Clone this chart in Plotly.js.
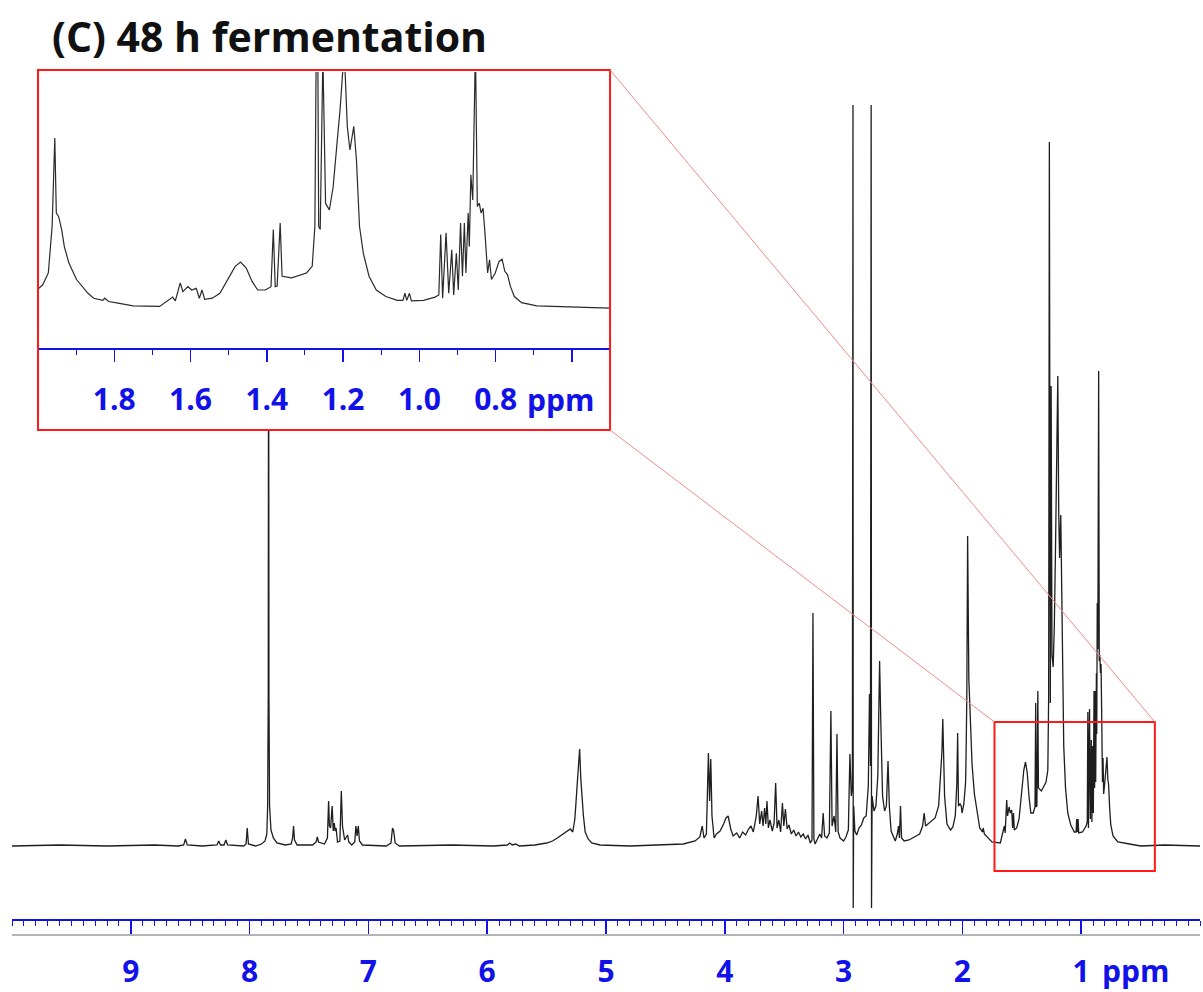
<!DOCTYPE html>
<html>
<head>
<meta charset="utf-8">
<script src="https://cdn.plot.ly/plotly-3.0.1.min.js"></script>
<style>
  html, body { margin: 0; padding: 0; background: #ffffff; }
  #plot { width: 1203px; height: 992px; }
</style>
</head>
<body>
<div id="plot"></div>
<script>
// 1H NMR spectrum after 48 h of fermentation (chemical shift in ppm, intensity in arbitrary units)
const ppm = [
  10.00, 9.60, 9.20, 8.80, 8.60, 8.555, 8.54, 8.525, 8.40, 8.275, 8.26, 8.245, 8.215, 8.20, 8.185,
  8.05, 8.03, 8.02, 8.01, 7.95, 7.90, 7.87, 7.855, 7.848, 7.843, 7.840, 7.837, 7.832, 7.82, 7.80,
  7.77, 7.70, 7.65, 7.638, 7.63, 7.622, 7.60, 7.47, 7.44, 7.43, 7.42, 7.37, 7.345, 7.335, 7.328,
  7.318, 7.305, 7.296, 7.287, 7.28, 7.272, 7.26, 7.24, 7.228, 7.218, 7.20, 7.175, 7.165, 7.14,
  7.115, 7.105, 7.095, 7.085, 7.075, 7.05, 6.85, 6.81, 6.797, 6.787, 6.775, 6.74, 6.30, 5.95,
  5.83, 5.81, 5.79, 5.76, 5.73, 5.60, 5.50, 5.45, 5.41, 5.36, 5.33, 5.30, 5.28, 5.262, 5.245,
  5.232, 5.222, 5.212, 5.20, 5.19, 5.175, 5.15, 5.12, 5.05, 4.80, 4.50, 4.35, 4.25, 4.21, 4.19,
  4.175, 4.155, 4.138, 4.128, 4.118, 4.108, 4.09, 4.07, 4.04, 4.01, 3.99, 3.972, 3.95, 3.93,
  3.90, 3.875, 3.85, 3.825, 3.80, 3.78, 3.76, 3.735, 3.72, 3.706, 3.69, 3.678, 3.665, 3.655,
  3.645, 3.633, 3.62, 3.60, 3.585, 3.572, 3.56, 3.545, 3.53, 3.515, 3.503, 3.49, 3.475, 3.46,
  3.44, 3.42, 3.40, 3.38, 3.36, 3.34, 3.32, 3.30, 3.28, 3.266, 3.258, 3.250, 3.24, 3.22, 3.20,
  3.185, 3.172, 3.16, 3.14, 3.12, 3.107, 3.097, 3.08, 3.066, 3.056, 3.046, 3.03, 3.00, 2.98,
  2.96, 2.947, 2.935, 2.926, 2.921, 2.919, 2.915, 2.905, 2.89, 2.87, 2.85, 2.83, 2.81, 2.792,
  2.782, 2.774, 2.768, 2.765, 2.76, 2.745, 2.728, 2.712, 2.697, 2.686, 2.672, 2.655, 2.64,
  2.626, 2.615, 2.60, 2.58, 2.565, 2.548, 2.538, 2.53, 2.521, 2.512, 2.49, 2.45, 2.40, 2.36,
  2.335, 2.322, 2.31, 2.29, 2.26, 2.23, 2.20, 2.18, 2.172, 2.165, 2.158, 2.15, 2.13, 2.10,
  2.08, 2.06, 2.047, 2.040, 2.033, 2.02, 2.01, 2.003, 1.988, 1.973, 1.968, 1.963, 1.956, 1.952,
  1.946, 1.938, 1.931, 1.919, 1.899, 1.879, 1.869, 1.854, 1.830, 1.825, 1.815, 1.790, 1.751,
  1.681, 1.662, 1.647, 1.640, 1.627, 1.620, 1.607, 1.597, 1.585, 1.577, 1.570, 1.563, 1.543,
  1.523, 1.503, 1.483, 1.469, 1.454, 1.439, 1.424, 1.404, 1.389, 1.383, 1.378, 1.373, 1.365,
  1.360, 1.335, 1.296, 1.281, 1.274, 1.268, 1.264, 1.260, 1.253, 1.246, 1.236, 1.226, 1.216,
  1.208, 1.197, 1.189, 1.182, 1.172, 1.165, 1.157, 1.147, 1.132, 1.113, 1.088, 1.058, 1.043,
  1.038, 1.033, 1.026, 1.021, 0.989, 0.959, 0.949, 0.944, 0.939, 0.930, 0.923, 0.915, 0.910,
  0.903, 0.898, 0.892, 0.887, 0.882, 0.878, 0.872, 0.869, 0.865, 0.860, 0.853, 0.848, 0.843,
  0.838, 0.833, 0.828, 0.821, 0.816, 0.811, 0.801, 0.791, 0.783, 0.776, 0.769, 0.761, 0.751,
  0.732, 0.692, 0.593, 0.499, 0.30, 0.00
];
const intensity = [
  0, 1, 0, 1, 0, 1, 7, 1, 0, 1, 5, 1, 1, 6, 1,
  0, 2, 18, 2, 0, 2, 5, 12, 40, 150, 640, 150, 40, 16, 8,
  3, 1, 2, 8, 20, 6, 1, 1, 4, 9, 4, 2, 8, 45, 20,
  18, 40, 15, 23, 15, 18, 4, 5, 55, 20, 6, 11, 4, 1,
  4, 20, 10, 20, 5, 1, 0, 3, 18, 15, 3, 0, 1, 0,
  1, 3, 1, 2, 0, 1, 3, 5, 8, 12, 15, 17, 14, 27, 57,
  78, 97, 67, 40, 30, 14, 7, 3, 1, 0, 1, 2, 5, 9, 20,
  8, 12, 93, 45, 87, 30, 8, 12, 15, 22, 28, 30, 17, 10,
  13, 8, 14, 11, 17, 20, 14, 30, 50, 22, 35, 20, 38, 22,
  45, 18, 26, 15, 23, 63, 18, 26, 14, 43, 20, 37, 17, 21,
  12, 16, 10, 14, 9, 12, 7, 11, 3, 6, 233, 7, 2, 7, 12,
  8, 33, 10, 8, 13, 135, 20, 30, 14, 112, 14, 8, 5, 9,
  16, 92, 50, 60, 741, -62, 40, 15, 11, 18, 21, 28, 30, 60,
  152, 80, 741, -62, 50, 35, 40, 70, 185, 120, 50, 35, 40,
  85, 40, 15, 8, 5, 12, 20, 8, 40, 8, 5, 6, 9, 12,
  20, 33, 20, 22, 25, 28, 40, 78, 95, 127, 85, 50, 22, 16,
  19, 30, 62, 113, 40, 42, 40, 33, 42, 64, 100, 149, 310, 173,
  167, 143, 112, 82, 52, 36, 27, 18, 14, 18, 12, 9, 4,
  3, 12, 20, 13, 46, 30, 39, 33, 36, 18, 33, 16, 18,
  27, 52, 76, 84, 73, 49, 33, 33, 39, 143, 39, 40, 155,
  58, 55, 64, 76, 149, 704, 149, 143, 460, 191, 179, 221, 300,
  361, 470, 331, 288, 331, 270, 149, 100, 58, 33, 21, 14, 14,
  27, 14, 27, 13, 14, 20, 24, 134, 18, 137, 27, 106, 24,
  100, 33, 155, 58, 155, 64, 173, 112, 243, 197, 475, 185, 191,
  173, 182, 137, 64, 88, 52, 64, 85, 89, 67, 61, 39, 21,
  10, 4, 2, 0, 1, 0
];

// axis tick labels
const mainTickVals = [9, 8, 7, 6, 5, 4, 3, 2, 1];
const mainTickText = ['9', '8', '7', '6', '5', '4', '3', '2', '1'];
const insetTickVals = [1.8, 1.6, 1.4, 1.2, 1.0, 0.8, 0.6];
const insetTickText = ['1.8', '1.6', '1.4', '1.2', '1.0', '0.8', ''];

// view ranges
const mainRange = [10, 0];
const mainIntRange = [-73, 786];
const insetRange = [2.0, 0.5];
const insetIntRange = [-222, 430];
// region of the full spectrum that is enlarged in the inset (ppm / intensity)
const zoomBox = { from: 1.73, to: 0.38, low: -25, high: 124 };

// layout geometry (paper fractions)
const insetDomX = [0.0219, 0.5034];
const insetDomY = [0.5693, 0.9860];
const insetAxisPos = 0.6636;
const insetFrame = { x0: 0.0219, x1: 0.5034, y0: 0.5693, y1: 0.9884 };

const blue = '#1212e8';
const red = '#ff1a1a';
const tickFont = { family: 'Open Sans, sans-serif', size: 30, color: blue, weight: 'bold' };

function paperX(p) { return (mainRange[0] - p) / (mainRange[0] - mainRange[1]); }
function paperY(v) { return (v - mainIntRange[0]) / (mainIntRange[1] - mainIntRange[0]); }

const traces = [
  {
    x: ppm, y: intensity, type: 'scatter', mode: 'lines',
    xaxis: 'x', yaxis: 'y',
    line: { color: '#1e1e1e', width: 1.3 },
    hoverinfo: 'skip', showlegend: false
  },
  {
    x: ppm, y: intensity, type: 'scatter', mode: 'lines',
    xaxis: 'x2', yaxis: 'y2',
    line: { color: '#2a2a2a', width: 1.2 },
    hoverinfo: 'skip', showlegend: false
  }
];

const axisStyle = {
  showline: true, linecolor: blue, linewidth: 2,
  ticks: 'outside', tickcolor: blue, tickwidth: 1.5,
  tickmode: 'array', tickfont: tickFont,
  showgrid: false, zeroline: false, fixedrange: true
};

const layout = {
  width: 1203, height: 992,
  margin: { l: 12, r: 3, t: 60, b: 73, pad: 0 },
  paper_bgcolor: '#ffffff',
  plot_bgcolor: 'white',
  showlegend: false,
  title: {
    text: '(C) 48 h fermentation',
    font: { family: 'Open Sans, sans-serif', size: 41, color: '#111111', weight: 'bold' },
    xref: 'container', yref: 'container',
    x: 52 / 1203, xanchor: 'left',
    y: 1 - 38 / 992, yanchor: 'middle'
  },
  xaxis: Object.assign({}, axisStyle, {
    range: mainRange, domain: [0, 1], anchor: 'y',
    tickvals: mainTickVals, ticktext: mainTickText,
    ticklen: 13, ticklabelstandoff: 12,
    minor: { tickmode: 'linear', tick0: 0, dtick: 0.1, ticklen: 5, tickcolor: blue, tickwidth: 1 }
  }),
  yaxis: { range: mainIntRange, domain: [0, 1], visible: false, fixedrange: true, anchor: 'x' },
  xaxis2: Object.assign({}, axisStyle, {
    range: insetRange, domain: insetDomX, anchor: 'free', position: insetAxisPos,
    tickvals: insetTickVals, ticktext: insetTickText,
    ticklen: 12, ticklabelstandoff: 12,
    minor: { tickmode: 'linear', tick0: 0, dtick: 0.1, ticklen: 5, tickcolor: blue, tickwidth: 1 }
  }),
  yaxis2: { range: insetIntRange, domain: insetDomY, visible: false, fixedrange: true, anchor: 'x2' },
  annotations: [
    { text: 'ppm', xref: 'x', yref: 'paper', x: 0.84, y: -0.0594, xanchor: 'left', yanchor: 'middle',
      showarrow: false, font: tickFont },
    { text: 'ppm', xref: 'x2', yref: 'paper', x: 0.722, y: 0.6042, xanchor: 'left', yanchor: 'middle',
      showarrow: false, font: tickFont }
  ],
  shapes: [
    // grey rule under the chemical-shift axis
    { type: 'line', xref: 'paper', yref: 'paper', x0: 0, x1: 1, y0: -0.0186, y1: -0.0186,
      line: { color: '#b4b4b4', width: 2 } },
    // frame of the enlarged view
    { type: 'rect', xref: 'paper', yref: 'paper', layer: 'above',
      x0: insetFrame.x0, x1: insetFrame.x1, y0: insetFrame.y0, y1: insetFrame.y1,
      line: { color: red, width: 2 }, fillcolor: 'rgba(0,0,0,0)' },
    // enlarged region on the full spectrum
    { type: 'rect', xref: 'x', yref: 'y', layer: 'above',
      x0: zoomBox.from, x1: zoomBox.to, y0: zoomBox.low, y1: zoomBox.high,
      line: { color: red, width: 2 }, fillcolor: 'rgba(0,0,0,0)' },
    // connectors
    { type: 'line', xref: 'paper', yref: 'paper', layer: 'above',
      x0: insetFrame.x1, y0: insetFrame.y1, x1: paperX(zoomBox.to), y1: paperY(zoomBox.high),
      line: { color: '#f28a8a', width: 1 } },
    { type: 'line', xref: 'paper', yref: 'paper', layer: 'above',
      x0: insetFrame.x1, y0: insetFrame.y0, x1: paperX(zoomBox.from), y1: paperY(zoomBox.high),
      line: { color: '#f28a8a', width: 1 } }
  ]
};

Plotly.newPlot('plot', traces, layout, { staticPlot: true, displayModeBar: false });
</script>
</body>
</html>
